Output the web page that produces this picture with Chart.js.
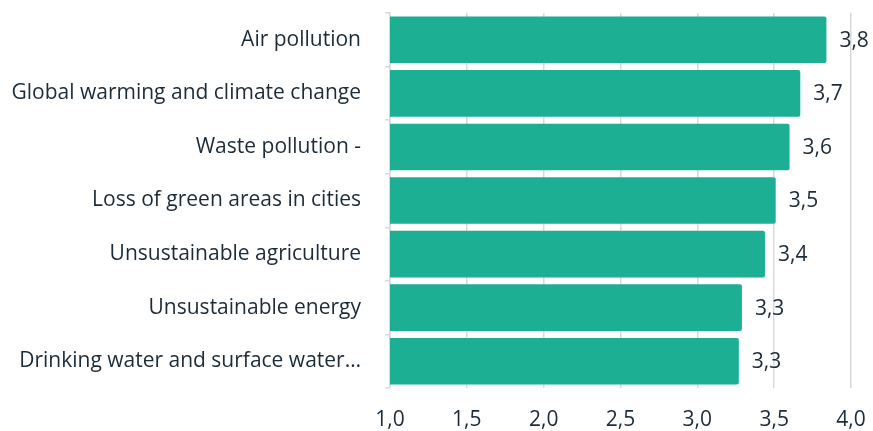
<!DOCTYPE html>
<html>
<head>
<meta charset="utf-8">
<script src="https://cdn.jsdelivr.net/npm/chart.js@4"></script>
<style>
  html, body { margin: 0; padding: 0; background: #fff; }
  #wrap { width: 873px; height: 431px; }
</style>
</head>
<body>
<div id="wrap"><canvas id="chart" width="873" height="431"></canvas></div>
<script>
// ---- Data ----
const categories = [
  'Air pollution',
  'Global warming and climate change',
  'Waste pollution -',
  'Loss of green areas in cities',
  'Unsustainable agriculture',
  'Unsustainable energy',
  'Drinking water and surface water…'
];
const scores = [3.84, 3.67, 3.60, 3.51, 3.44, 3.29, 3.27];
const xTicks = [1.0, 1.5, 2.0, 2.5, 3.0, 3.5, 4.0];

const BAR_COLOR  = '#1caf94';
const TEXT_COLOR = '#1c2b38';
const GRID_COLOR = '#d9d9d9';
const FONT = '"Open Sans", sans-serif';
const FONT_SIZE = 21;

const fmt = v => v.toFixed(1).replace('.', ',');

// value labels at the end of each bar
const valueLabels = {
  id: 'valueLabels',
  afterDatasetsDraw(chart) {
    const ctx = chart.ctx;
    const meta = chart.getDatasetMeta(0);
    ctx.save();
    ctx.font = FONT_SIZE + 'px ' + FONT;
    ctx.fillStyle = TEXT_COLOR;
    ctx.textAlign = 'left';
    ctx.textBaseline = 'middle';
    meta.data.forEach((bar, i) => {
      ctx.fillText(fmt(scores[i]), bar.x + 13, bar.y + 1);
    });
    ctx.restore();
  }
};

new Chart(document.getElementById('chart'), {
  type: 'bar',
  data: {
    labels: categories,
    datasets: [{
      data: scores,
      backgroundColor: BAR_COLOR,
      borderRadius: 2,
      borderSkipped: 'start',
      barPercentage: 0.87,
      categoryPercentage: 1
    }]
  },
  options: {
    indexAxis: 'y',
    responsive: false,
    animation: false,
    layout: { padding: { top: 13, right: 22, left: 0, bottom: 0 } },
    plugins: { legend: { display: false }, tooltip: { enabled: false } },
    scales: {
      x: {
        min: 1, max: 4,
        afterBuildTicks: scale => { scale.ticks = xTicks.map(v => ({ value: v })); },
        ticks: {
          callback: v => fmt(v),
          color: TEXT_COLOR,
          font: { family: FONT, size: FONT_SIZE },
          padding: 19
        },
        grid: { color: GRID_COLOR, lineWidth: 1.5, drawTicks: false },
        border: { display: false },
        afterFit: scale => {
          scale.height = 43;
          scale.paddingLeft = 0;
          scale.paddingRight = 0;
        }
      },
      y: {
        ticks: {
          color: TEXT_COLOR,
          font: { family: FONT, size: FONT_SIZE },
          padding: 24
        },
        grid: { color: GRID_COLOR, lineWidth: 1.5, drawOnChartArea: false, tickLength: 5 },
        border: { display: true, color: GRID_COLOR, width: 1.5 },
        afterFit: scale => {
          scale.width = 390;
          scale.paddingTop = 0;
          scale.paddingBottom = 0;
        }
      }
    }
  },
  plugins: [valueLabels]
});
</script>
</body>
</html>
